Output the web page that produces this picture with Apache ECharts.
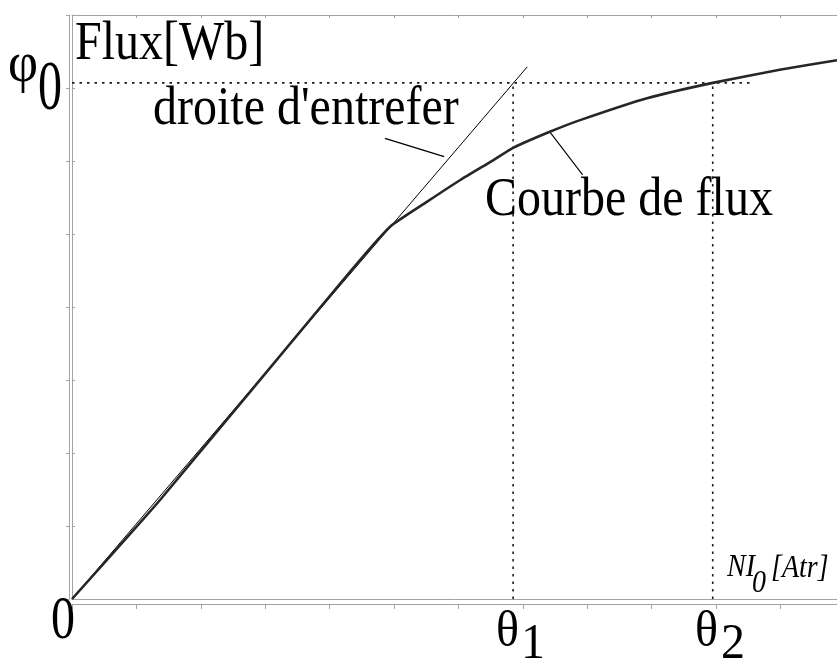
<!DOCTYPE html>
<html>
<head>
<meta charset="utf-8">
<script src="https://cdn.jsdelivr.net/npm/echarts@6/dist/echarts.min.js"></script>
<style>
  html, body { margin: 0; padding: 0; background: #ffffff; }
  #chart { width: 837px; height: 661px; }
</style>
</head>
<body>
<div id="chart"></div>
<script>
// Magnetisation (flux) curve: ampere-turns vs. flux
const fluxCurveNI  = [0, 1.37, 4.21, 4.94, 5.51, 6.03, 6.54, 6.85, 7.42, 7.89, 8.93, 9.95, 10.99, 11.88];
const fluxCurvePhi = [0, 1.36, 4.37, 5.10, 5.44, 5.74, 6.01, 6.18, 6.40, 6.56, 6.86, 7.07, 7.25, 7.38];

// Air-gap line (droite d'entrefer)
const airGapNI  = [0, 7.07];
const airGapPhi = [0, 7.29];

// Working points
const theta1 = 6.85;
const theta2 = 9.95;
const phi0 = 7.07;
const phiGuideEnd = 10.53;

// Leader lines from the captions to the curves
const airGapLeaderNI  = [4.86, 5.78];
const airGapLeaderPhi = [6.31, 6.06];
const curveLeaderNI   = [7.42, 7.93];
const curveLeaderPhi  = [6.40, 5.81];

// Axis extents
const xMax = 11.88;
const yMax = 8;

const zip = (xs, ys) => xs.map((x, i) => [x, ys[i]]);

const axisGray = '#a3a3a3';

function plainAxis(extra) {
  return Object.assign({
    type: 'value',
    axisLabel: { show: false },
    splitLine: { show: false },
    axisLine: { show: true, onZero: false, lineStyle: { color: axisGray, width: 1 } },
    axisTick: { show: false }
  }, extra);
}

function dotted(data) {
  return {
    type: 'line', data: data, showSymbol: false, silent: true,
    lineStyle: { color: '#1a1a1a', width: 1.6, type: [2.5, 5] }, z: 1
  };
}

// Stretched serif caption (the lettering is taller than the font's normal proportions)
function caption(text, x, y, opts) {
  opts = opts || {};
  return {
    type: 'text', x: x, y: y,
    scaleX: opts.sx || 1, scaleY: opts.sy || 1.15,
    style: {
      text: text,
      fontFamily: 'Liberation Serif',
      fontSize: opts.size || 48,
      fontStyle: opts.italic ? 'italic' : 'normal',
      fill: '#000',
      align: opts.align || 'left',
      verticalAlign: 'middle'
    },
    z: 10
  };
}

const chart = echarts.init(document.getElementById('chart'), null, { renderer: 'canvas' });

chart.setOption({
  backgroundColor: '#ffffff',
  animation: false,
  grid: { left: 72, right: 0, top: 15, bottom: 62, containLabel: false },
  xAxis: [
    plainAxis({ min: 0, max: xMax, interval: 1, position: 'bottom' }),
    plainAxis({ min: 0, max: xMax, interval: 1, position: 'bottom', offset: 5,
      axisTick: { show: true, length: 5, lineStyle: { color: axisGray } } }),
    plainAxis({ min: 0, max: xMax, interval: 1, position: 'top',
      axisTick: { show: true, inside: true, length: 3, lineStyle: { color: axisGray } } })
  ],
  yAxis: [
    plainAxis({ min: 0, max: yMax, interval: 1, position: 'left',
      axisTick: { show: true, inside: true, length: 3, lineStyle: { color: axisGray } } }),
    plainAxis({ min: 0, max: yMax, interval: 1, position: 'left', offset: 3,
      axisTick: { show: true, length: 3, lineStyle: { color: axisGray } } })
  ],
  series: [
    dotted([[0, phi0], [phiGuideEnd, phi0]]),
    dotted([[theta1, 0], [theta1, phi0]]),
    dotted([[theta2, 0], [theta2, phi0]]),
    {
      name: "droite d'entrefer", type: 'line', data: zip(airGapNI, airGapPhi),
      showSymbol: false, lineStyle: { color: '#000', width: 1 }, z: 3
    },
    {
      name: 'Courbe de flux', type: 'line', data: zip(fluxCurveNI, fluxCurvePhi),
      showSymbol: false, smooth: 0.15, lineStyle: { color: '#262626', width: 2.6 }, z: 4
    },
    {
      type: 'line', data: zip(airGapLeaderNI, airGapLeaderPhi),
      showSymbol: false, lineStyle: { color: '#000', width: 1.3 }, z: 3
    },
    {
      type: 'line', data: zip(curveLeaderNI, curveLeaderPhi),
      showSymbol: false, lineStyle: { color: '#000', width: 1.1 }, z: 3
    }
  ],
  graphic: [
    caption('Flux[Wb]', 75, 44),
    caption("droite d'entrefer", 153, 109),
    caption('Courbe de flux', 485, 200),
    caption('0', 63, 622, { align: 'center', sy: 1.28 }),
    caption('φ', 8, 66, { sy: 1.1, size: 52 }),
    caption('0', 38, 91, { sy: 1.45 }),
    caption('θ', 496, 633, { sy: 1.05 }),
    caption('1', 521, 645, { sy: 1.05 }),
    caption('θ', 695, 633, { sy: 1.05 }),
    caption('2', 721, 645, { sy: 1.05 }),
    caption('NI', 727, 568, { italic: true, size: 28, sy: 1.1 }),
    caption('0', 752, 584, { italic: true, size: 28, sy: 1.1 }),
    caption('[Atr]', 771, 569, { italic: true, size: 28, sy: 1.1 })
  ]
});
</script>
</body>
</html>
